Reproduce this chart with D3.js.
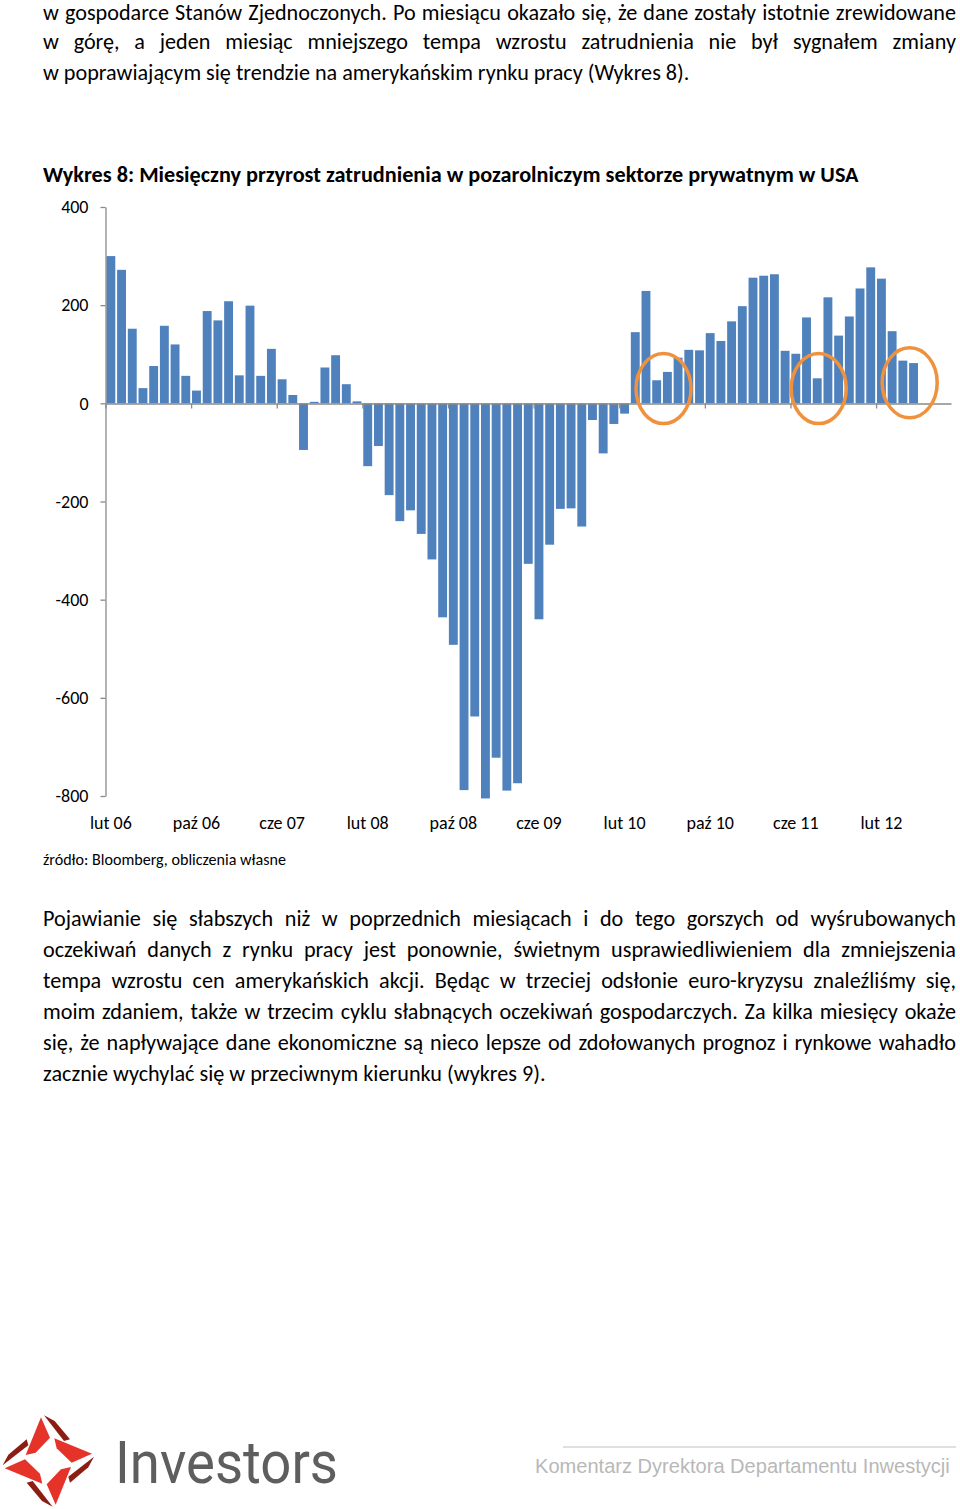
<!DOCTYPE html>
<html><head><meta charset="utf-8">
<script src="https://cdn.jsdelivr.net/npm/d3@7/dist/d3.min.js"></script>
<style>body{margin:0;background:#fff}svg{display:block}</style>
</head><body>
<svg id="c" width="960" height="1509"></svg>
<script>
// ---------- data ----------
const categories = [
  "lut 06","mar 06","kwi 06","maj 06","cze 06","lip 06","sie 06","wrz 06","paź 06","lis 06","gru 06",
  "sty 07","lut 07","mar 07","kwi 07","maj 07","cze 07","lip 07","sie 07","wrz 07","paź 07","lis 07","gru 07",
  "sty 08","lut 08","mar 08","kwi 08","maj 08","cze 08","lip 08","sie 08","wrz 08","paź 08","lis 08","gru 08",
  "sty 09","lut 09","mar 09","kwi 09","maj 09","cze 09","lip 09","sie 09","wrz 09","paź 09","lis 09","gru 09",
  "sty 10","lut 10","mar 10","kwi 10","maj 10","cze 10","lip 10","sie 10","wrz 10","paź 10","lis 10","gru 10",
  "sty 11","lut 11","mar 11","kwi 11","maj 11","cze 11","lip 11","sie 11","wrz 11","paź 11","lis 11","gru 11",
  "sty 12","lut 12","mar 12","kwi 12","maj 12","cze 12","lip 12","sie 12"
];
const values = [
  300, 272, 152, 31, 76, 158, 120, 56, 26, 188, 169,
  208, 57, 199, 56, 111, 49, 17, -95, 3, 73, 98, 39,
  4, -128, -87, -187, -240, -218, -266, -318, -436, -492, -788, -638,
  -805, -722, -789, -774, -327, -440, -288, -215, -214, -251, -34, -102,
  -42, -21, 145, 229, 47, 64, 93, 109, 108, 143, 127, 167,
  198, 256, 260, 263, 107, 101, 175, 51, 216, 138, 177, 234,
  277, 254, 147, 87, 82
];
const tickLabels = ["lut 06","paź 06","cze 07","lut 08","paź 08","cze 09","lut 10","paź 10","cze 11","lut 12"];
const yTicks = [400, 200, 0, -200, -400, -600, -800];
const circledFrom = ["maj 10", "sie 11", "kwi 12"];
const circledTo   = ["cze 10", "sie 11", "maj 12"];
const circledLevel = [30, 30, 42];

const chartTitle = "Wykres 8: Miesięczny przyrost zatrudnienia w pozarolniczym sektorze prywatnym w USA";
const sourceText = "źródło: Bloomberg, obliczenia własne";
const topLines = [
  "w gospodarce Stanów Zjednoczonych. Po miesiącu okazało się, że dane zostały istotnie zrewidowane",
  "w górę, a jeden miesiąc mniejszego tempa wzrostu zatrudnienia nie był sygnałem zmiany",
  "w poprawiającym się trendzie na amerykańskim rynku pracy (Wykres 8)."
];
const bottomLines = [
  "Pojawianie się słabszych niż w poprzednich miesiącach i do tego gorszych od wyśrubowanych",
  "oczekiwań danych z rynku pracy jest ponownie, świetnym usprawiedliwieniem dla zmniejszenia",
  "tempa wzrostu cen amerykańskich akcji.  Będąc w trzeciej odsłonie euro-kryzysu znaleźliśmy się,",
  "moim zdaniem, także w trzecim cyklu słabnących oczekiwań gospodarczych. Za kilka miesięcy okaże",
  "się, że napływające dane ekonomiczne są nieco lepsze od zdołowanych prognoz i rynkowe wahadło",
  "zacznie wychylać się w przeciwnym kierunku (wykres 9)."
];
const footerText = "Komentarz Dyrektora Departamentu Inwestycji";
const brandText = "Investors";

// ---------- setup ----------
const svg = d3.select("#c");
const FONT = "Carlito, Lato, 'Open Sans', sans-serif";

function measure(str, size, weight, family) {
  const t = svg.append("text").attr("font-family", family || FONT)
    .attr("font-size", size).attr("font-weight", weight || 400).text(str);
  const w = t.node().getComputedTextLength();
  t.remove();
  return w;
}
function fitSize(str, width, weight, family) {
  const base = 20;
  return base * width / measure(str, base, weight, family);
}
function paragraph(lines, baselines, x0, x1, lastEnd) {
  const size = fitSize(lines[lines.length - 1], lastEnd - x0);
  lines.forEach((ln, i) => {
    const t = svg.append("text").attr("font-family", FONT).attr("font-size", size)
      .attr("fill", "#000").attr("y", baselines[i]);
    if (i === lines.length - 1) { t.attr("x", x0).text(ln); return; }
    const words = ln.split(/\s+/);
    const ws = words.map(w => measure(w, size));
    const gap = (x1 - x0 - d3.sum(ws)) / (words.length - 1);
    let xx = x0;
    words.forEach((w, j) => { t.append("tspan").attr("x", xx).text(w); xx += ws[j] + gap; });
  });
}

// ---------- texts ----------
paragraph(topLines, [19.5, 48.5, 79.5], 43, 956, 690);
paragraph(bottomLines, [926, 957, 988, 1019, 1050, 1081], 43, 956, 546);

svg.append("text").attr("x", 43).attr("y", 182)
  .attr("font-family", FONT).attr("font-weight", 700)
  .attr("font-size", fitSize(chartTitle, 816, 700)).text(chartTitle);

svg.append("text").attr("x", 43).attr("y", 865)
  .attr("font-family", FONT).attr("font-size", fitSize(sourceText, 243)).text(sourceText);

// ---------- chart ----------
const x = d3.scaleBand().domain(categories).range([105.5, 951]).paddingInner(0.17).paddingOuter(0.085);
const y = d3.scaleLinear().domain([-800, 400]).range([796, 207]);
const xi = d3.scaleLinear().domain([0, categories.length]).range(x.range());

const g = svg.append("g");
g.selectAll("rect.bar").data(values).join("rect").attr("class", "bar")
  .attr("x", (d, i) => x(categories[i]))
  .attr("width", x.bandwidth())
  .attr("y", d => y(Math.max(0, d)))
  .attr("height", d => Math.abs(y(d) - y(0)))
  .attr("fill", "#4F81BD");

const axisColor = "#8a8a8a";
// y axis
const ya = g.append("g").attr("transform", "translate(105.5,0)")
  .call(d3.axisLeft(y).tickValues(yTicks).tickSize(5).tickSizeOuter(0).tickPadding(12).tickFormat(d => String(d)));
ya.select(".domain").attr("stroke", axisColor).attr("stroke-width", 1.3);
ya.selectAll(".tick line").attr("stroke", axisColor).attr("stroke-width", 1.3);
ya.selectAll(".tick text").attr("font-family", FONT).attr("font-size", 18).attr("fill", "#000");

// zero line with category tick marks
const xa = g.append("g").attr("transform", `translate(0,${Math.round(y(0)) + 0.5})`)
  .call(d3.axisBottom(xi).tickValues(d3.range(0, categories.length, 8)).tickSize(5).tickSizeOuter(0).tickFormat(""));
xa.select(".domain").attr("stroke", axisColor).attr("stroke-width", 1.3);
xa.selectAll(".tick line").attr("stroke", axisColor).attr("stroke-width", 1.3);

// category labels (low position)
const xl = g.append("g").attr("transform", "translate(0,816)")
  .call(d3.axisBottom(x).tickValues(tickLabels).tickSize(0).tickPadding(0));
xl.select(".domain").remove();
xl.selectAll(".tick text").attr("font-family", FONT).attr("font-size", 18).attr("fill", "#000");

// orange annotation ellipses
g.selectAll("ellipse.ann").data(circledFrom).join("ellipse").attr("class", "ann")
  .attr("cx", (d, i) => (x(d) + x(circledTo[i])) / 2 + x.bandwidth() / 2 + 1.5)
  .attr("cy", (d, i) => y(circledLevel[i]))
  .attr("rx", 27.5).attr("ry", 35)
  .attr("fill", "none").attr("stroke", "#F0913E").attr("stroke-width", 3.5);

// ---------- footer ----------
svg.append("line").attr("x1", 563).attr("x2", 956).attr("y1", 1447).attr("y2", 1447)
  .attr("stroke", "#d6d6d6").attr("stroke-width", 1.5);
svg.append("text").attr("x", 535).attr("y", 1473)
  .attr("font-family", "'Liberation Sans', Arial, sans-serif")
  .attr("font-size", fitSize(footerText, 415, 400, "'Liberation Sans', Arial, sans-serif"))
  .attr("fill", "#b8b8b8").text(footerText);

// logo
const C = [145, 153];
const bright = [[18, -68], [131, -22], [70, 5], [25, -38]];
const dark = [[137, -13], [120, 19], [65, 65], [60, 47]];
const rot = (p, k) => { let [a, b] = p; for (let i = 0; i < k; i++) { [a, b] = [-b, a]; } return [a + C[0], b + C[1]]; };
const logo = svg.append("g").attr("transform", "translate(0,1410) scale(0.3333)");
[0, 1, 2, 3].forEach(k => {
  logo.append("path").attr("d", "M" + bright.map(p => rot(p, k).join(",")).join("L") + "Z").attr("fill", "#E5332A");
  logo.append("path").attr("d", "M" + dark.map(p => rot(p, k).join(",")).join("L") + "Z").attr("fill", "#8C1D12");
});
svg.append("text").attr("x", 115).attr("y", 1483)
  .attr("font-family", "Roboto, 'DejaVu Sans', sans-serif").attr("font-size", 60)
  .attr("textLength", 223).attr("lengthAdjust", "spacingAndGlyphs")
  .attr("fill", "#5e5e5e").text(brandText);
</script>
</body></html>
